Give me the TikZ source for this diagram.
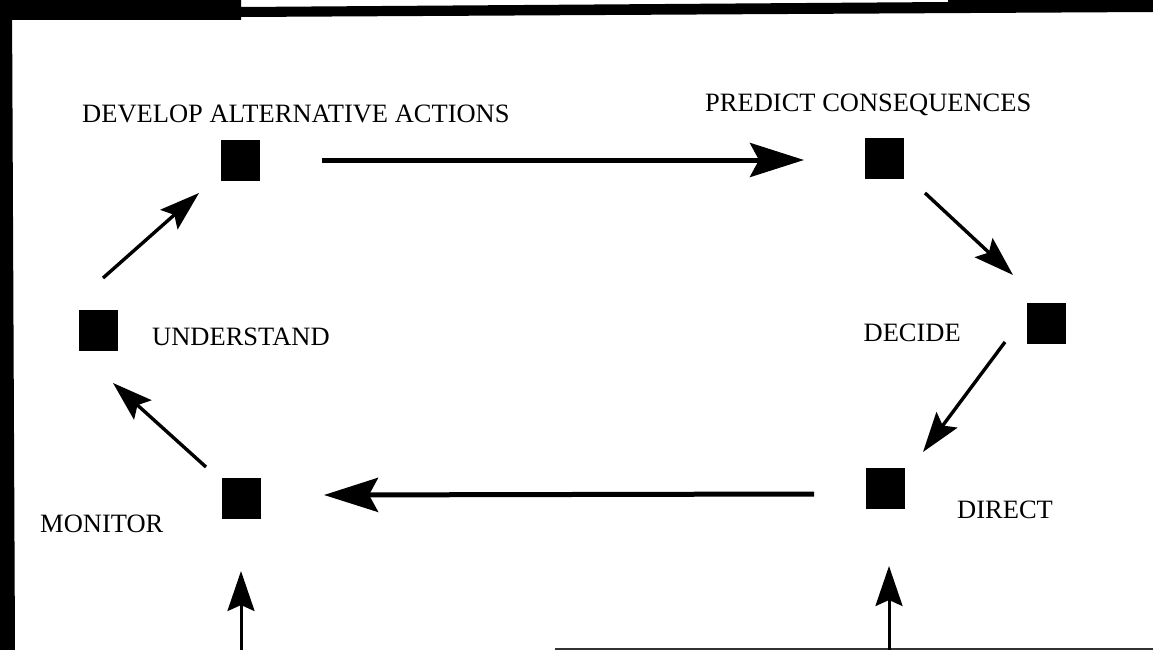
\documentclass[tikz,border=0pt]{standalone}
\usepackage{fontspec}
\setmainfont{Liberation Serif}
\usetikzlibrary{arrows.meta}
\begin{document}
\begin{tikzpicture}[x=1pt,y=-1pt,
  box/.style={fill=black,draw=none,minimum width=39pt,minimum height=41pt,inner sep=0pt},
  lbl/.style={inner sep=0pt,anchor=base west,font=\fontsize{26.5}{30}\selectfont},
  diag/.style={line width=3.4pt,-{Stealth[length=40pt,width=26pt,inset=7pt]}},
  horiz/.style={line width=5pt,-{Stealth[length=54pt,width=34pt,inset=9pt]}},
  vert/.style={line width=3pt,-{Stealth[length=40pt,width=27pt,inset=6pt]}}]
\useasboundingbox (0,0) rectangle (1153,650);
\fill[white] (0,0) rectangle (1153,650);
% scanned border
\fill[black] (0,0) -- (241,0) -- (241,7) -- (948,2) -- (948,0) -- (1153,0) -- (1153,12)
  -- (241,17) -- (241,20) -- (0,20) -- cycle;
\fill[black] (0,0) -- (12,0) -- (15,650) -- (0,650) -- cycle;
\fill[black!80] (555,647.5) rectangle (1153,650);
% squares
\node[box] (dev) at (240,160) {};
\node[box] (pred) at (884,158) {};
\node[box] (und) at (98,330) {};
\node[box] (dec) at (1046,323) {};
\node[box] (dir) at (885,488) {};
\node[box] (mon) at (241,498) {};
% labels
\node[lbl] (tdev) at (82,123) {DEVELOP ALTERNATIVE ACTIONS};
\node[lbl] (tpred) at (705,112) {PREDICT CONSEQUENCES};
\node[lbl] (tund) at (152,345) {UNDERSTAND};
\node[lbl,anchor=base east] (tdec) at (961,341) {DECIDE};
\node[lbl] (tdir) at (957,518) {DIRECT};
\node[lbl] (tmon) at (40,532) {MONITOR};
% arrow end points
\coordinate (a1s) at (322,160); \coordinate (a1e) at (804,160);
\coordinate (a2s) at (925,193); \coordinate (a2e) at (1013,275);
\coordinate (a3s) at (1005,342); \coordinate (a3e) at (923,452);
\coordinate (a4s) at (814,494); \coordinate (a4e) at (324,495);
\coordinate (a5s) at (206,467); \coordinate (a5e) at (113,383);
\coordinate (a6s) at (103,278); \coordinate (a6e) at (199,193);
\coordinate (a7s) at (241,651); \coordinate (a7e) at (241,571);
\coordinate (a8s) at (889,651); \coordinate (a8e) at (889,566);
% arrows
\draw[horiz] (a1s) -- (a1e);
\draw[diag] (a2s) -- (a2e);
\draw[diag] (a3s) -- (a3e);
\draw[horiz] (a4s) -- (a4e);
\draw[diag] (a5s) -- (a5e);
\draw[diag] (a6s) -- (a6e);
\draw[vert] (a7s) -- (a7e);
\draw[vert] (a8s) -- (a8e);
\end{tikzpicture}
\end{document}
